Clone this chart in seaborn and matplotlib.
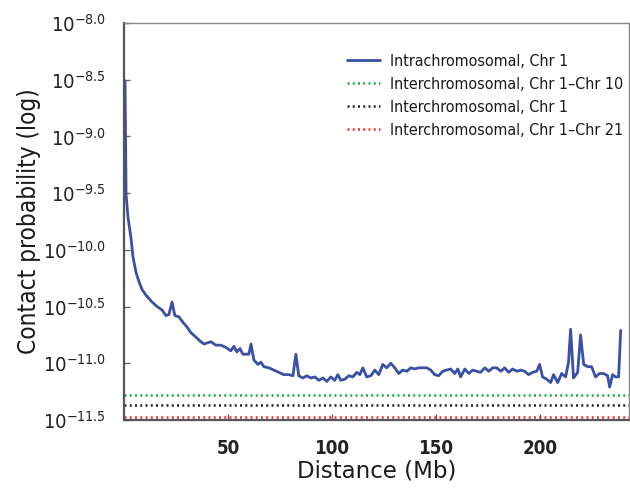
import numpy as np
import pandas as pd
import matplotlib
matplotlib.use("Agg")
import matplotlib.pyplot as plt
import seaborn as sns
from matplotlib import font_manager

# ---- data ----
distance_mb = [0.5, 1.0, 1.9, 3.4, 4.3, 5.8, 7.2, 8.7, 10.6, 13.5, 15.9, 18.3, 20.2, 21.6, 23.1,
               24.5, 26.4, 28.4, 30.3, 32.2, 34.6, 37.0, 38.5, 41.8, 44.2, 46.6, 49.0, 51.4, 52.9,
               54.3, 55.8, 57.2, 58.7, 60.1, 61.1, 62.5, 64.4, 65.9, 67.3, 69.7, 72.1, 74.5, 76.9,
               79.3, 81.3, 82.7, 84.1, 86.1, 88.0, 89.9, 91.8, 93.8, 95.7, 97.6, 99.5, 101.4, 102.9,
               104.3, 106.3, 108.2, 110.1, 112.0, 113.5, 114.9, 116.8, 118.8, 120.7, 122.6, 124.5,
               126.4, 128.4, 130.3, 132.2, 134.1, 136.1, 138.0, 139.9, 141.8, 143.8, 145.7, 147.6,
               149.5, 151.4, 153.4, 155.3, 157.2, 159.1, 160.6, 162.0, 164.0, 165.9, 167.8, 169.7,
               171.6, 173.6, 175.5, 177.4, 179.3, 181.3, 183.2, 185.1, 187.0, 189.0, 190.9, 192.8,
               194.7, 196.6, 198.6, 200.0, 201.4, 203.4, 205.3, 206.7, 208.7, 210.6, 212.5, 213.9,
               214.9, 216.3, 218.3, 219.7, 221.2, 223.1, 225.0, 226.9, 228.8, 230.8, 232.7, 233.7,
               235.1, 236.5, 238.0, 239.0]
log_prob = [-8.51, -9.51, -9.71, -9.90, -10.06, -10.20, -10.28, -10.35, -10.40, -10.46, -10.50,
            -10.53, -10.58, -10.57, -10.46, -10.58, -10.59, -10.64, -10.68, -10.73, -10.77, -10.81,
            -10.83, -10.81, -10.84, -10.84, -10.86, -10.89, -10.85, -10.90, -10.87, -10.92, -10.92,
            -10.92, -10.83, -10.97, -11.01, -10.99, -11.03, -11.04, -11.06, -11.08, -11.10, -11.10,
            -11.11, -10.92, -11.11, -11.13, -11.11, -11.13, -11.12, -11.15, -11.13, -11.16, -11.12,
            -11.15, -11.10, -11.15, -11.14, -11.11, -11.12, -11.08, -11.10, -11.04, -11.12, -11.11,
            -11.06, -11.10, -11.01, -11.04, -11.00, -11.04, -11.09, -11.06, -11.07, -11.04, -11.05,
            -11.04, -11.04, -11.04, -11.06, -11.10, -11.11, -11.07, -11.06, -11.05, -11.09, -11.05,
            -11.12, -11.05, -11.09, -11.06, -11.07, -11.08, -11.04, -11.07, -11.04, -11.04, -11.07,
            -11.04, -11.08, -11.05, -11.07, -11.06, -11.07, -11.10, -11.08, -11.07, -11.01, -11.12,
            -11.14, -11.17, -11.10, -11.17, -11.09, -11.12, -10.99, -10.70, -11.13, -11.08, -10.75,
            -11.01, -11.03, -11.03, -11.12, -11.09, -11.09, -11.11, -11.21, -11.10, -11.12, -11.12,
            -10.71]

inter_labels = ["Interchromosomal, Chr 1\u2013Chr 10", "Interchromosomal, Chr 1",
                "Interchromosomal, Chr 1\u2013Chr 21"]
inter_log_prob = [-11.28, -11.37, -11.47]
inter_colors = ["#1fa84a", "#222222", "#ec2d3a"]

intra_label = "Intrachromosomal, Chr 1"
intra_color = "#3a50a4"

y_ticks = [-8.0, -8.5, -9.0, -9.5, -10.0, -10.5, -11.0, -11.5]
x_ticks = [50, 100, 150, 200]

# ---- style ----
sns.set_style("ticks")
plt.rcParams["font.family"] = ["DejaVu Sans"]
cond = font_manager.FontProperties(family="DejaVu Sans", stretch="condensed")
cond_path = font_manager.findfont(cond)
has_cond = "ondensed" in cond_path
cond_bold_path = font_manager.findfont(
    font_manager.FontProperties(family="DejaVu Sans", stretch="condensed", weight="bold"))

def fp(size, bold=False):
    if has_cond:
        return font_manager.FontProperties(fname=cond_bold_path if bold else cond_path, size=size)
    return font_manager.FontProperties(family="Liberation Sans", size=size,
                                       weight="bold" if bold else "normal")

plt.rcParams["mathtext.fontset"] = "custom"
pat = "DejaVu Sans:stretch=condensed" if has_cond else "Liberation Sans"
plt.rcParams["mathtext.rm"] = pat
plt.rcParams["mathtext.it"] = pat
plt.rcParams["mathtext.bf"] = pat

fig = plt.figure(figsize=(6.30, 4.88), dpi=100)
ax = fig.add_axes([124 / 630, 1 - 420 / 488, 505 / 630, 397 / 488])

df = pd.DataFrame({"Distance": distance_mb, "Prob": np.power(10.0, log_prob)})
sns.lineplot(data=df, x="Distance", y="Prob", ax=ax, color=intra_color, lw=2.0,
             label=intra_label)

for lab, val, col in zip(inter_labels, inter_log_prob, inter_colors):
    ax.axhline(10.0 ** val, color=col, lw=1.8, ls=(0, (0.8, 1.3)), label=lab)

ax.set_yscale("log")
ax.set_ylim(10.0 ** -11.5, 10.0 ** -8.0)
ax.set_xlim(0, 243)
ax.set_yticks([10.0 ** t for t in y_ticks])
ax.set_yticklabels([r"$10^{%.1f}$" % t for t in y_ticks])
ax.yaxis.set_minor_locator(matplotlib.ticker.NullLocator())
ax.set_xticks(x_ticks)
ax.set_xticklabels([str(t) for t in x_ticks])

for lab in ax.get_yticklabels():
    lab.set_fontsize(14.5)
    lab.set_color("#222222")
for lab in ax.get_xticklabels():
    lab.set_fontproperties(fp(13.5, bold=True))
    lab.set_color("#222222")

ax.tick_params(axis="both", direction="in", length=4, width=1, color="#666666")
ax.tick_params(axis="y", pad=13)
ax.tick_params(axis="x", pad=14)

for side in ["left", "bottom"]:
    ax.spines[side].set_linewidth(1.6)
    ax.spines[side].set_color("#555555")
for side in ["top", "right"]:
    ax.spines[side].set_visible(True)
    ax.spines[side].set_linewidth(1.0)
    ax.spines[side].set_color("#888888")

ax.set_xlabel("Distance (Mb)", fontsize=16.5, color="#1a1a1a", labelpad=1)
ax.set_ylabel("Contact probability (log)", fontproperties=fp(17.5), color="#1a1a1a")
ax.yaxis.set_label_coords(-0.164, 0.5)

leg = ax.legend(loc="upper right", bbox_to_anchor=(0.988, 0.922), frameon=False,
                borderaxespad=0, borderpad=0,
                prop=fp(11.5), handlelength=2.1, handletextpad=0.6, labelspacing=0.5)
for t in leg.get_texts():
    t.set_color("#1a1a1a")

fig.savefig("out.png", dpi=100, facecolor="white")
